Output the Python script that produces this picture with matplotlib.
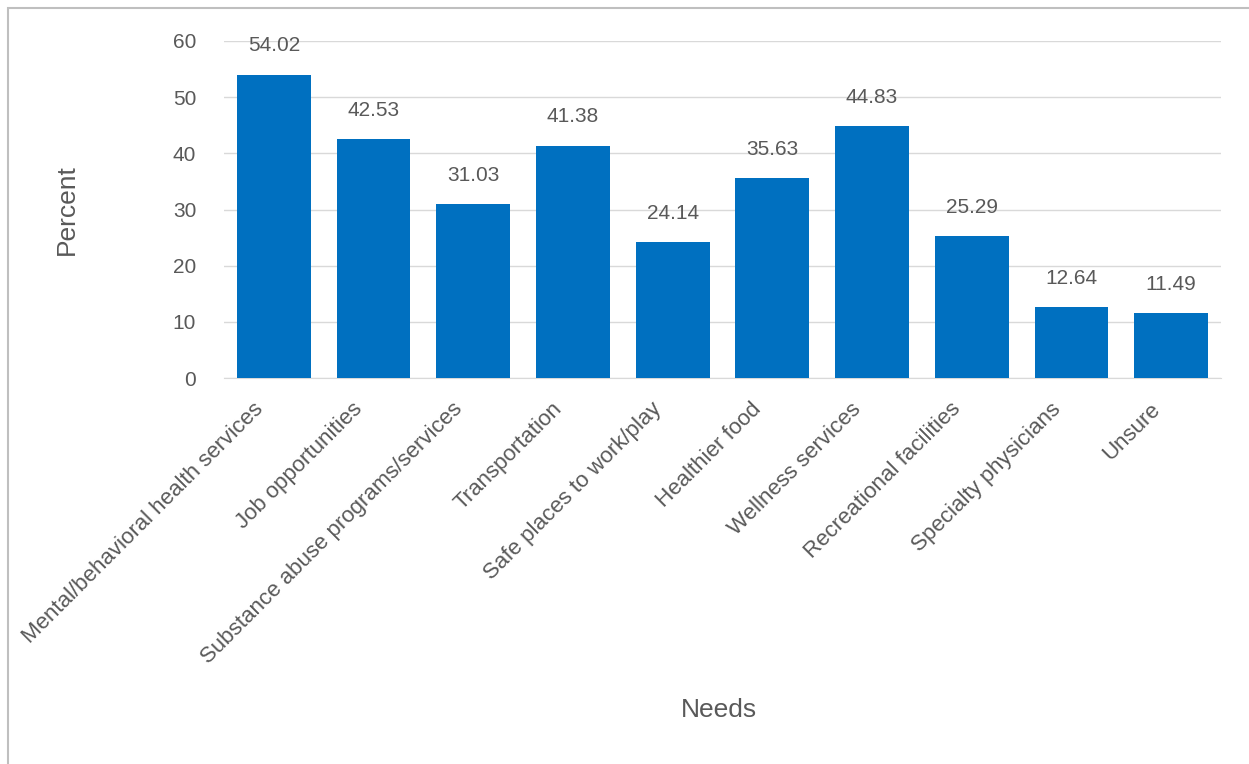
import matplotlib.pyplot as plt
from matplotlib.patches import Rectangle
from matplotlib.transforms import ScaledTranslation

needs = [
    "Mental/behavioral health services",
    "Job opportunities",
    "Substance abuse programs/services",
    "Transportation",
    "Safe places to work/play",
    "Healthier food",
    "Wellness services",
    "Recreational facilities",
    "Specialty physicians",
    "Unsure",
]
percent = [54.02, 42.53, 31.03, 41.38, 24.14, 35.63, 44.83, 25.29, 12.64, 11.49]
yticks = [0, 10, 20, 30, 40, 50, 60]

TEXT = "#595959"
BAR = "#0070C0"

plt.rcParams["font.family"] = ["Liberation Sans", "DejaVu Sans"]

fig = plt.figure(figsize=(12.49, 7.64), dpi=100)
# outer chart-area border (only left and top edges show in the crop)
fig.patches.append(Rectangle((8 / 1249, -0.1), 1.2, 1.1 - 8 / 764,
                             transform=fig.transFigure, fill=False,
                             edgecolor="#BFBFBF", linewidth=1.5))

ax = fig.add_axes([224 / 1249, 1 - 378 / 764, (1221 - 224) / 1249, (378 - 41) / 764])
x = list(range(len(needs)))
ax.bar(x, percent, width=0.74, color=BAR, zorder=3)
for xi, v in zip(x, percent):
    ax.text(xi, v + 3.4, f"{v:.2f}", ha="center", va="bottom", fontsize=15, color=TEXT)

ax.set_xlim(-0.5, len(needs) - 0.5)
ax.set_ylim(0, 60)
ax.set_yticks(yticks)
ax.set_yticklabels([str(t) for t in yticks], fontsize=15, color=TEXT)
ax.set_xticks(x)
ax.set_xticklabels([])

# rotated category labels, nudged left like the original
lbl_tr = ax.get_xaxis_transform() + ScaledTranslation(-0.14, -0.28, fig.dpi_scale_trans)
for xi, name in zip(x, needs):
    ax.text(xi, 0, name, transform=lbl_tr, rotation=45, rotation_mode="anchor",
            ha="right", va="center", fontsize=16, color=TEXT)

ax.tick_params(axis="both", length=0)
ax.tick_params(axis="y", pad=20)
ax.grid(axis="y", color="#D9D9D9", linewidth=1, zorder=0)
for s in ["top", "right", "left"]:
    ax.spines[s].set_visible(False)
ax.spines["bottom"].set_color("#D9D9D9")

ax.set_ylabel("Percent", fontsize=19, color=TEXT, labelpad=68)
fig.text(719 / 1249, 1 - 710 / 764, "Needs", ha="center", va="center", fontsize=19, color=TEXT)

fig.savefig("out.png", dpi=100)
